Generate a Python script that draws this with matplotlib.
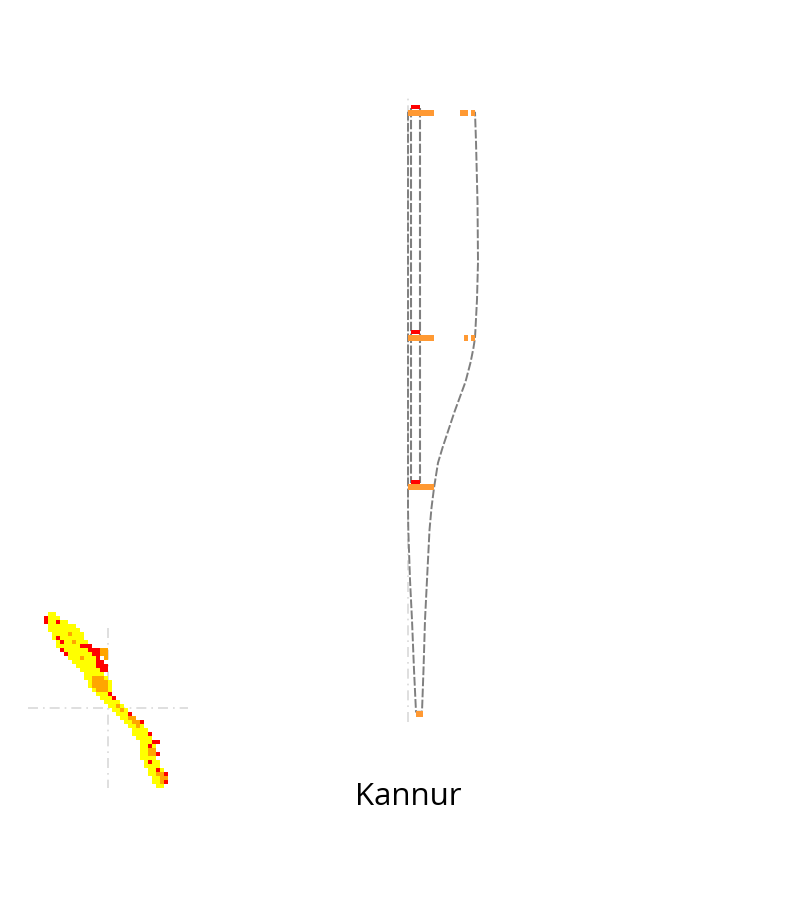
import numpy as np
import matplotlib
matplotlib.use("Agg")
import matplotlib.pyplot as plt
from matplotlib.colors import to_rgba

# ---------------- data ----------------
title = "Kannur"

# violin outline (value -> left / right edge)
violin_v = [100, 95, 85, 75, 68.7, 62.3, 60.5, 58.2, 55, 52.5, 50, 47, 44, 41.5, 37.3, 34, 30.3, 22, 15.3, 7, 0]
violin_left = [1, 1, 1, 1, 1, 1, 1, 1, 1, 1, 1, 1, 1, 1, 1, 1, 1.3, 3, 5, 7, 9]
violin_right = [68, 69, 70.5, 71, 70, 68, 66.3, 63.5, 58.5, 53, 47.5, 41.5, 35.5, 31, 27, 24.5, 22.5, 20, 18, 16.5, 15]

# inner box
box_x = [3.7, 12.7]
box_v = [100.7, 38.1]

# orange markers
orange_v = [99.8, 99.8, 99.8, 62.3, 62.3, 62.3, 37.4, -0.3]
orange_left = [1.3, 53, 64, 1.3, 57, 64, 1.3, 8.7]
orange_width = [25.2, 8, 3.7, 25.2, 4, 3.7, 25.2, 7]

# red markers
red_v = [100.8, 63.3, 38.3]
red_left = [3.7, 3.7, 3.7]
red_width = [9.3, 9.3, 9.3]

# district map raster: '.' empty, y yellow, o orange, r red
map_rows = [
    ".yy.............................",
    "ryyy............................",
    "ryyryy..........................",
    ".yyyyyyy........................",
    ".yyyyyyyy.......................",
    "..yyyyoyyy......................",
    "..yryyyyyy......................",
    "...yryyoyyy.....................",
    "...yyyyyyrrr....................",
    "....ryyyyyyrrroo................",
    ".....ryyyyyyrroo................",
    "......yyyoyyyr.o................",
    ".......yyyyyyrr.................",
    "........yyyyyrrr................",
    ".........yyyyyrr................",
    "..........yyyyy.................",
    "..........yyoooy................",
    "...........yooooy...............",
    "...........yooooy...............",
    "............yoooy...............",
    ".............yyyr...............",
    "..............yyyr..............",
    "...............yyyy.............",
    "................yyoy............",
    ".................yyoy...........",
    "..................yyyr..........",
    "...................yyoo.........",
    "....................yyoor.......",
    ".....................yyoy.......",
    "......................yyyy......",
    "......................yyyyr.....",
    ".......................yyyy.....",
    "........................yyyrr...",
    "........................yyry....",
    "........................yyoo....",
    "........................yyoor...",
    "........................yyyy....",
    ".........................yryy...",
    ".........................yyyy...",
    "..........................yyry..",
    "..........................yyoor.",
    "...........................yyoo.",
    "...........................yyor.",
    "............................yy..",
]
map_colors = {".": (1, 1, 1, 0), "y": to_rgba("#ffff00"),
              "o": to_rgba("#ffa500"), "r": to_rgba("#ff0000")}
cross_center = (16, 24)
cross_half = 20

# ---------------- figure ----------------
W, H = 800, 900
fig = plt.figure(figsize=(W / 100, H / 100), dpi=100)
fig.patch.set_facecolor("white")

# main violin axes: 1 x-unit = 1 px, 1 y-unit = 6 px
ax = fig.add_axes([407 / W, (H - 722) / H, 90 / W, 624 / H])
ax.set_xlim(0, 90)
ax.set_ylim(-1.7, 102.3)
ax.axis("off")

dash = (0, (4.5, 1.2))
grey = "#7f7f7f"
ax.axvline(0.5, color="#d9d9d9", lw=1.2, linestyle=(0, (6, 3, 1, 3)), zorder=1)

outline_x = list(violin_left) + list(violin_right[::-1])
outline_y = list(violin_v) + list(violin_v[::-1])
ax.plot(outline_x, outline_y, color=grey, lw=1.4, linestyle=dash, zorder=2)
for bx in box_x:
    ax.plot([bx, bx], box_v, color=grey, lw=1.5, linestyle=dash, zorder=2)

ax.barh(orange_v, orange_width, left=orange_left, height=1.0,
        color="#ff9933", edgecolor="none", zorder=3)
ax.barh(red_v, red_width, left=red_left, height=0.8,
        color="#ff0000", edgecolor="none", zorder=4)

# map inset: 1 cell = 4 px
axm = fig.add_axes([28 / W, (H - 790) / H, 160 / W, 178 / H])
grid = np.array([[map_colors[c] for c in row] for row in map_rows])
nrows, ncols = len(map_rows), len(map_rows[0])
axm.set_xlim(-4, 36)
axm.set_ylim(44.5, 0)
axm.axis("off")
cx, cy = cross_center
lsty = (0, (6, 3, 1, 3))
axm.plot([cx, cx], [cy - cross_half, cy + cross_half], color="#d9d9d9", lw=1.2, linestyle=lsty, zorder=1)
axm.plot([cx - cross_half, cx + cross_half], [cy, cy], color="#d9d9d9", lw=1.2, linestyle=lsty, zorder=1)
axm.imshow(grid, extent=(0, ncols, nrows, 0), interpolation="nearest", aspect="auto", zorder=2)

fig.text(408 / W, (H - 797) / H, title, ha="center", va="center",
         fontsize=22.5, family=["Open Sans", "DejaVu Sans"], color="black")

fig.savefig("out.png", dpi=100, facecolor="white")
